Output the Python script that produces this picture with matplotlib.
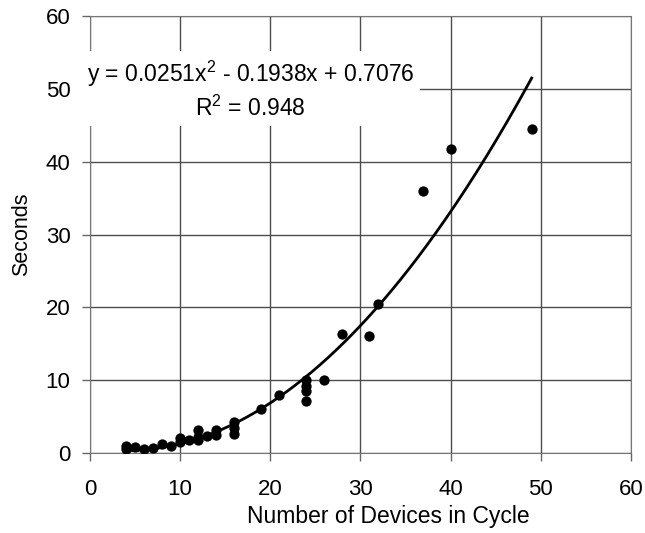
import numpy as np
import matplotlib
matplotlib.use("Agg")
import matplotlib.pyplot as plt

plt.rcParams['font.family'] = ['Liberation Sans', 'DejaVu Sans']
plt.rcParams['mathtext.fontset'] = 'custom'
plt.rcParams['mathtext.rm'] = 'Liberation Sans'
plt.rcParams['mathtext.it'] = 'Liberation Sans'

# devices in cycle vs seconds
devices = [4, 4, 5, 6, 7, 8, 9, 10, 10, 11, 12, 12, 12, 13, 14, 14,
           16, 16, 16, 19, 21, 24, 24, 24, 24, 26, 28, 31, 32, 37, 40, 49]
seconds = [0.5, 0.9, 0.8, 0.6, 0.7, 1.2, 1.0, 1.5, 2.0, 1.8, 3.1, 2.2, 1.8, 2.3, 3.2, 2.5,
           4.3, 3.5, 2.6, 6.0, 8.0, 10.0, 9.2, 8.5, 7.2, 10.0, 16.3, 16.1, 20.5, 36.0, 41.8, 44.5]

# trendline coefficients printed on the chart
coef = [0.0251, -0.1938, 0.7076]
trend_label = "y = 0.0251x$^\\mathrm{2}$ - 0.1938x + 0.7076\nR$^\\mathrm{2}$ = 0.948"

ticks = [0, 10, 20, 30, 40, 50, 60]

fig = plt.figure(figsize=(6.45, 5.33), dpi=100)
ax = fig.add_axes([0.1395, 0.150, 0.8385, 0.820])

xs = np.linspace(min(devices), max(devices), 200)
ax.plot(xs, np.polyval(coef, xs), color='black', lw=2.0, zorder=3)
ax.scatter(devices, seconds, s=55, color='black', zorder=4, linewidths=0)

ax.set_xlim(0, 60)
ax.set_ylim(0, 60)
ax.set_xticks(ticks)
ax.set_yticks(ticks)
ax.grid(True, color='#4d4d4d', lw=1)
ax.set_axisbelow(True)
for s in ax.spines.values():
    s.set_color('#777777')
    s.set_linestyle((0, (1, 1)))
ax.tick_params(direction='out', length=6, labelsize=16, colors='black',
               width=1, color='#666666')
ax.tick_params(axis='x', pad=13)
ax.tick_params(axis='y', pad=8)

ax.set_xlabel("Number of Devices in Cycle", fontsize=16.5, labelpad=4)
ax.xaxis.set_label_coords(0.551, -0.118)
ax.set_ylabel("Seconds", fontsize=15.5, labelpad=10)

ax.text(17.8, 49.9, trend_label, ha='center', va='center', fontsize=16.5,
        linespacing=1.35, zorder=5,
        bbox=dict(facecolor='white', edgecolor='none', pad=4))

fig.savefig("out.png", dpi=100)
